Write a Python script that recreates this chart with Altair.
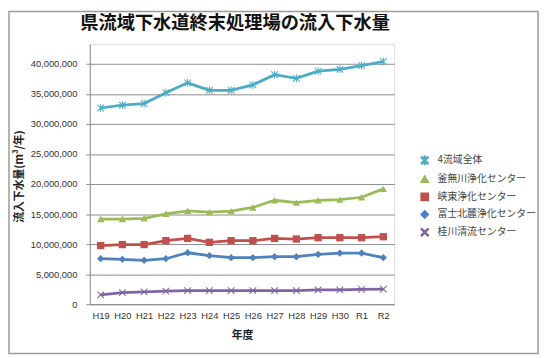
import altair as alt
import pandas as pd

years = ["H19", "H20", "H21", "H22", "H23", "H24", "H25", "H26", "H27", "H28", "H29", "H30", "R1", "R2"]
series_names = ["4流域全体", "釜無川浄化センター", "峡東浄化センター", "富士北麓浄化センター", "桂川清流センター"]

total = [32.66, 33.15, 33.40, 35.20, 36.85, 35.60, 35.60, 36.50, 38.20, 37.60, 38.80, 39.10, 39.70, 40.40]
kamanashi = [14.18, 14.18, 14.30, 15.05, 15.54, 15.33, 15.49, 16.10, 17.30, 16.90, 17.30, 17.40, 17.80, 19.20]
kyoto = [9.75, 9.92, 9.92, 10.57, 10.95, 10.30, 10.57, 10.57, 10.95, 10.85, 11.07, 11.07, 11.07, 11.23]
fuji = [7.57, 7.46, 7.30, 7.57, 8.56, 8.07, 7.74, 7.74, 7.90, 7.90, 8.28, 8.50, 8.50, 7.74]
katsura = [1.56, 1.93, 2.05, 2.16, 2.26, 2.26, 2.26, 2.26, 2.26, 2.26, 2.37, 2.37, 2.48, 2.50]

y_ticks = [0, 5000000, 10000000, 15000000, 20000000, 25000000, 30000000, 35000000, 40000000]

colors = ["#4BACC6", "#9BBB59", "#C0504D", "#4F81BD", "#8064A2"]
ASTERISK = ("M-1,-0.8L-0.8,-1L0,-0.2L0.8,-1L1,-0.8L0.2,0L1,0.8L0.8,1L0,0.2L-0.8,1L-1,0.8L-0.2,0Z"
            "M-0.13,-1.1L0.13,-1.1L0.13,1.1L-0.13,1.1Z")
XMARK = "M-1,-0.8L-0.8,-1L0,-0.2L0.8,-1L1,-0.8L0.2,0L1,0.8L0.8,1L0,0.2L-0.8,1L-1,0.8L-0.2,0Z"
shapes = [ASTERISK, "triangle-up", "square", "diamond", XMARK]

rows = []
for name, vals in zip(series_names, [total, kamanashi, kyoto, fuji, katsura]):
    for yr, v in zip(years, vals):
        rows.append({"年度": yr, "系列": name, "値": v * 1_000_000})
df = pd.DataFrame(rows)

FONT = "Noto Sans CJK JP"
W, H = 309, 264
PAD = {"left": 83, "top": 34, "right": 150, "bottom": 52}

x_enc = alt.X("年度:O", sort=years,
              scale=alt.Scale(padding=0.5),
              axis=alt.Axis(title="年度", labelAngle=0, labelFont="Liberation Sans", labelFontSize=9.5,
                            labelColor="#333333", ticks=False, labelPadding=7,
                            domainColor="#8c8c8c", titleFont=FONT, titleFontSize=11,
                            titleFontWeight="bold", titleColor="#222222", titleY=32,
                            titleBaseline="middle", grid=False))
y_enc = alt.Y("値:Q",
              scale=alt.Scale(domain=[0, 43300000], nice=False, zero=True),
              axis=alt.Axis(title="流入下水量(m³/年)", values=y_ticks, format=",d",
                            labelFont="Liberation Sans", labelFontSize=9.5, labelColor="#333333",
                            tickSize=4, tickColor="#8c8c8c", labelPadding=9,
                            domainColor="#8c8c8c", gridColor="#8c8c8c", gridWidth=1,
                            titleFont=FONT, titleFontSize=11, titleFontWeight="bold",
                            titleColor="#222222", titleX=-71, titleY=H / 2 + 2, titleAngle=-90,
                            titleAlign="center", titleBaseline="middle"))

legend = alt.Legend(title=None, orient="none", legendX=335, legendY=113,
                    labelFont=FONT, labelFontSize=10, labelColor="#444444",
                    symbolSize=55, rowPadding=4, labelOffset=8)

color_scale = alt.Scale(domain=series_names, range=colors)
shape_scale = alt.Scale(domain=series_names, range=shapes)

lines = alt.Chart(df).mark_line(strokeWidth=2.8).encode(
    x=x_enc, y=y_enc,
    color=alt.Color("系列:N", scale=color_scale, legend=legend),
)

points = alt.Chart(df).mark_point(filled=True, size=55, opacity=1).encode(
    x=x_enc, y=y_enc,
    color=alt.Color("系列:N", scale=color_scale, legend=legend),
    shape=alt.Shape("系列:N", scale=shape_scale, legend=legend),
)

border = alt.Chart(alt.Data(values=[{}])).mark_rect(
    filled=False, stroke="#9a9a9a", strokeWidth=1.5
).encode(
    x=alt.value(-PAD["left"] + 1), x2=alt.value(W + PAD["right"] - 4),
    y=alt.value(-PAD["top"] + 1), y2=alt.value(H + PAD["bottom"] - 2),
)

chart = alt.layer(border, lines, points).properties(
    width=W, height=H,
    autosize="none",
    padding=PAD,
    title=alt.TitleParams("県流域下水道終末処理場の流入下水量", font=FONT, fontSize=18.5,
                          fontWeight="bold", color="#111111", anchor="middle",
                          offset=12, dx=-7, dy=34),
).configure_view(stroke=None).configure(background="white")

chart.save("out.html", embed_options={"renderer": "svg", "actions": False})
